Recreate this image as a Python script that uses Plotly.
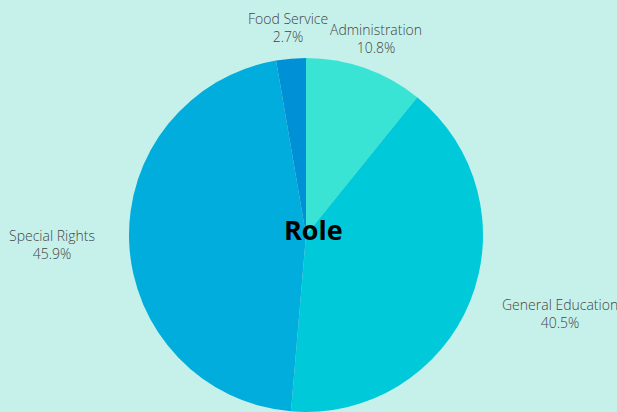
import math
import plotly.graph_objects as go

# ---- data ----
labels = ["Administration", "General Education", "Special Rights", "Food Service"]
values = [4, 15, 17, 1]
colors = ["#3ae4d4", "#00cad9", "#00addc", "#0090d5"]
center_title = "Role"

# ---- layout geometry ----
W, H = 617, 412
M = dict(l=0, r=5, t=58, b=0)
pw = W - M["l"] - M["r"]
ph = H - M["t"] - M["b"]
radius = min(pw, ph) / 2          # radius plotly gives the pie in its domain
cx = M["l"] + pw / 2
cy = M["t"] + ph / 2
label_gap = 32                    # distance of labels beyond the pie edge

label_font = dict(family="Open Sans", size=14, color="#444444", weight=300)

fig = go.Figure(go.Pie(
    labels=labels,
    values=values,
    sort=False,
    direction="clockwise",
    rotation=0,
    marker=dict(colors=colors, line=dict(width=0)),
    textinfo="none",
    showlegend=False,
    hoverinfo="label+percent",
))

# outside labels placed along each slice's bisector
total = sum(values)
cum = 0
for lab, v in zip(labels, values):
    mid = (cum + v / 2) / total
    cum += v
    ang = 2 * math.pi * mid
    sx, sy = math.sin(ang), -math.cos(ang)
    px = cx + (radius + label_gap) * sx
    py = cy + (radius + label_gap) * sy + 1
    if sx > 0.5:
        xa = "left"
    elif sx < -0.5:
        xa = "right"
    else:
        xa = "center"
    fig.add_annotation(
        x=(px - M["l"]) / pw, y=(H - M["b"] - py) / ph,
        xref="paper", yref="paper",
        text=f"{lab}<br>{v / total * 100:.1f}%",
        showarrow=False, xanchor=xa, yanchor="middle",
        font=label_font, align="center",
    )

fig.add_annotation(
    text="<b>" + center_title + "</b>",
    x=(cx + 7.5 - M["l"]) / pw, y=(H - M["b"] - (cy - 6)) / ph,
    xref="paper", yref="paper",
    showarrow=False, xanchor="center", yanchor="middle",
    font=dict(family="Open Sans", size=27, color="#000000"),
)

fig.update_layout(
    width=W, height=H,
    paper_bgcolor="#c6f1ea",
    plot_bgcolor="#c6f1ea",
    margin=M,
    font=dict(family="Open Sans"),
)

fig.write_html(
    "out.html",
    config={"displayModeBar": False},
    post_script="document.body.style.margin='0';",
)
